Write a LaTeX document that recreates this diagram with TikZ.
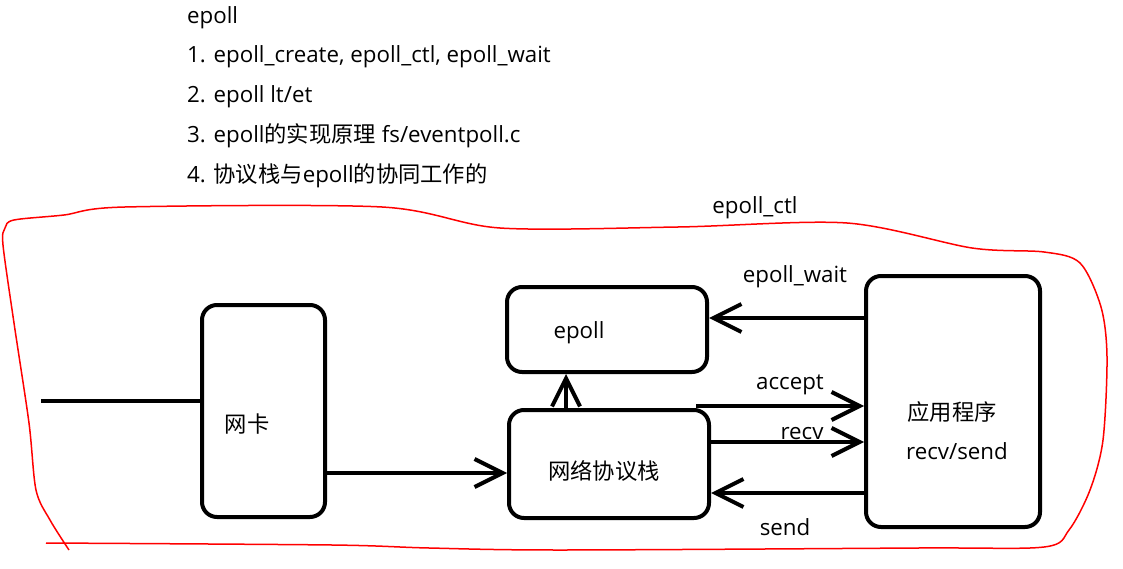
\documentclass[tikz,border=0pt]{standalone}
\usepackage{fontspec}
\setmainfont{Open Sans}
\newfontfamily\cjk{Noto Sans CJK SC}
\usetikzlibrary{arrows.meta}
\begin{document}
\begin{tikzpicture}[x=1pt,y=-1pt,
  box/.style={draw,line width=4pt,rounded corners=15pt,inner sep=0pt},
  arr/.style={line width=4pt,-{Straight Barb[length=28pt,width=28pt,line width=4pt]}},
  plain/.style={line width=4pt},
  lbl/.style={font=\fontsize{22.3}{26}\selectfont,inner sep=0pt},
  outline/.style={draw=red,line width=1.5pt}]
\useasboundingbox (0,0) rectangle (1123,569);
\fill[white] (0,0) rectangle (1123,569);
% header
\node[lbl,anchor=base west] (h0) at (187,24) {epoll};
\node[lbl,anchor=base west] (h1) at (187,63) {1. epoll\_create, epoll\_ctl, epoll\_wait};
\node[lbl,anchor=base west] (h2) at (187,103) {2. epoll lt/et};
\node[lbl,anchor=base west] (h3) at (187,143) {3. epoll{\cjk 的实现原理} fs/eventpoll.c};
\node[lbl,anchor=base west] (h4) at (187,183) {4. {\cjk 协议栈与}epoll{\cjk 的协同工作的}};
% red outline
\draw[outline] plot[smooth,tension=0.5] coordinates {
 (69,550) (50,520) (36,490) (29,423) (14,323) (3,245) (5,228) (14,220)
 (64,215) (125,207) (382,207) (500,228) (678,227) (847,223) (972,248)
 (1044,252) (1080,263) (1101,307) (1107,357) (1103,440) (1090,490)
 (1069,530) (1044,547) (918,548) (560,550) (429,548) (332,545) (46,543)};
\node[lbl,anchor=center] (ctl) at (755,208) {epoll\_ctl};
% boxes
\node[box,minimum width=123pt,minimum height=212pt] (nic) at (263.5,411) {};
\node[lbl] (nict) at (247,424) {\cjk 网卡};
\node[box,minimum width=200pt,minimum height=85pt] (ep) at (607,329.5) {};
\node[lbl] (ept) at (579,333) {epoll};
\node[box,minimum width=200pt,minimum height=108pt] (stack) at (609,464) {};
\node[lbl] (stackt) at (604,471) {\cjk 网络协议栈};
\node[box,minimum width=174pt,minimum height=251pt] (app) at (953,401.5) {};
\node[lbl] (appt1) at (952,412) {\cjk 应用程序};
\node[lbl] (appt2) at (957,451) {recv/send};
% connectors
\coordinate (in) at (41,401);
\draw[plain] (in) -- (nic.west |- in);
\draw[arr] (nic.east |- 0,473) -- (stack.west |- 0,473);
\draw[arr] (stack.north -| 566,0) -- (ep.south -| 566,0);
\draw[arr] (app.west |- 0,318) -- (ep.east |- 0,318);
\node[lbl] (waitl) at (795,277) {epoll\_wait};
\coordinate (acc) at (696,406);
\draw[arr] (acc) -- (app.west |- acc);
\node[lbl] (accl) at (790,385) {accept};
\draw[arr] (stack.east |- 0,442) -- (app.west |- 0,442);
\node[lbl] (recvl) at (802,434) {recv};
\draw[arr] (app.west |- 0,493) -- (stack.east |- 0,493);
\node[lbl] (sendl) at (785,527) {send};
\end{tikzpicture}
\end{document}
